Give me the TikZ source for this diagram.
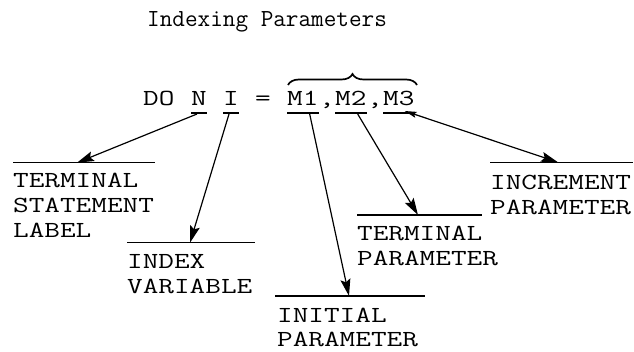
\documentclass[tikz,border=0pt]{standalone}
\usepackage{fontspec}
\setmonofont{Latin Modern Mono}[FakeStretch=1.32]
\newfontfamily\titlefont{Latin Modern Mono}
\usetikzlibrary{arrows.meta,decorations.pathreplacing,calc}
\tikzset{
  code/.style={font=\ttfamily\fontsize{23}{25.5}\selectfont, inner sep=0pt, anchor=base west},
  caption/.style={font=\ttfamily\fontsize{23}{25}\selectfont, inner sep=0pt, anchor=north west, align=left},
  rule/.style={line width=1.3pt},
  uline/.style={line width=1.2pt},
  ptr/.style={line width=1.2pt, -{Stealth[length=17pt,width=10pt,inset=3pt]}},
}
\begin{document}
\begin{tikzpicture}[x=1pt, y=-1pt]
  \useasboundingbox (0,0) rectangle (634,352);
  % title
  \node[code, font=\titlefont\fontsize{24.5}{26}\selectfont] (title) at (147,27) {Indexing Parameters};
  % the statement, one token per node
  \node[code] (do) at (143,106) {DO};
  \node[code] (vn) at (191,106) {N};
  \node[code] (vi) at (223,106) {I};
  \node[code] (eq) at (255,106) {=};
  \node[code] (ma) at (287,106) {M1};
  \node[code] (ca) at (319,106) {,};
  \node[code] (mb) at (335,106) {M2};
  \node[code] (cb) at (367,106) {,};
  \node[code] (mc) at (383,106) {M3};
  \foreach \t in {vn,vi,ma,mb,mc}
    \draw[uline] ($(\t.base west)+(0,7)$) -- ($(\t.base east)+(0,7)$);
  \draw[line width=1.7pt, decorate, decoration={brace, amplitude=11pt}] (288,85) -- (417,85);
  % where the pointers start
  \coordinate (sn) at ($(vn.base)+(-2,8)$);
  \coordinate (si) at ($(vi.base)+(-2,8)$);
  \coordinate (sa) at ($(ma.base east)+(-9,8)$);
  \coordinate (sb) at ($(mb.base east)+(-9,8)$);
  \coordinate (sc) at ($(mc.base east)+(-10,5)$);
  % rules and captions
  \draw[rule] (13,162.7) -- (155,162.7);
  \coordinate (tn) at (77,162.7);
  \node[caption] (lab) at (13,173) {TERMINAL\\STATEMENT\\LABEL};
  \draw[rule] (127,242.7) -- (255,242.7);
  \coordinate (ti) at (190,242.7);
  \node[caption] (idx) at (127,254) {INDEX\\VARIABLE};
  \draw[rule] (275,296) -- (425,296);
  \coordinate (ta) at (349,296);
  \node[caption, font=\ttfamily\fontsize{23}{24}\selectfont] (ini) at (277,307.5) {INITIAL\\PARAMETER};
  \draw[rule] (357,215) -- (482,215);
  \coordinate (tb) at (418,215);
  \node[caption] (trm) at (357,225.5) {TERMINAL\\PARAMETER};
  \draw[rule] (490,162.3) -- (633,162.3);
  \coordinate (tc) at (558,162.3);
  \node[caption] (inc) at (490,174.5) {INCREMENT\\PARAMETER};
  % pointers
  \draw[ptr] (sn) -- (tn);
  \draw[ptr] (si) -- (ti);
  \draw[ptr] (sa) -- (ta);
  \draw[ptr] (sb) -- (tb);
  \draw[ptr, {Stealth[length=12pt,width=6pt,inset=2pt]}-{Stealth[length=17pt,width=10pt,inset=3pt]}] (sc) -- (tc);
\end{tikzpicture}
\end{document}
